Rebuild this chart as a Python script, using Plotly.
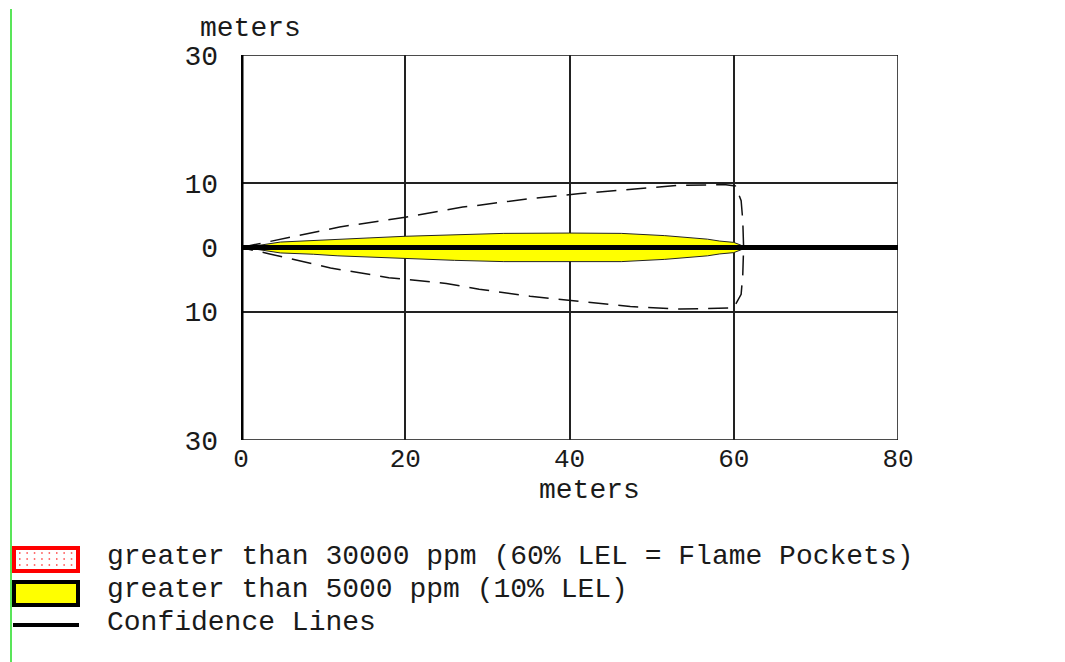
import plotly.graph_objects as go

# ---- data (meters) ----
plume_x = [0, 2, 4.8, 8.8, 11.8, 15.7, 20, 26, 32, 40, 46.3, 51.6, 54.2, 56.8, 58.3, 60, 61]
plume_hw = [0, 0.3, 0.85, 1.05, 1.3, 1.5, 1.75, 2.0, 2.2, 2.25, 2.2, 1.85, 1.6, 1.3, 1.0, 0.8, 0.3]

conf_upper_x = [0, 3, 6, 12, 20, 27, 29, 35, 41.3, 47.4, 53.5, 58.8, 60.2]
conf_upper_y = [0, 0.8, 1.6, 3.2, 4.7, 6.3, 6.6, 7.6, 8.4, 9.1, 9.7, 9.8, 9.6]
conf_cap_x = [60.9, 61.1, 61.2, 61.1, 60.9]
conf_cap_y = [7.3, 4.2, 0, -4.2, -7.3]
conf_lower_x = [60, 53.5, 47.4, 41.3, 35.2, 29, 25, 18, 10.9, 3.5, 0]
conf_lower_y = [-9.4, -9.6, -9.2, -8.4, -7.6, -6.5, -5.6, -4.7, -3.2, -1.0, 0]

centerline_x = [0, 80]
centerline_y = [0, 0]

x_ticks = [0, 20, 40, 60, 80]
y_ticks = [30, 10, 0, -10, -30]
y_ticktext = ["30", "10", "0", "10", "30"]

legend_labels = [
    "greater than 30000 ppm (60% LEL = Flame Pockets)",
    "greater than 5000 ppm (10% LEL)",
    "Confidence Lines",
]

FONT = "Liberation Mono"
FS = 28
TXT = "#1a1a1a"

W, H = 1065, 662
L, R, T, B = 241, 898, 55, 440


def px(xp):
    return (xp - L) / (R - L)


def py(yp):
    return (B - yp) / (B - T)


fig = go.Figure()

# yellow plume (>5000 ppm)
poly_x = plume_x + plume_x[::-1]
poly_y = plume_hw + [-v for v in plume_hw[::-1]]
fig.add_trace(go.Scatter(x=poly_x, y=poly_y, fill="toself", fillcolor="#ffff00",
                         line=dict(color="#222222", width=1), mode="lines",
                         hoverinfo="skip", showlegend=False))

# confidence lines
cx = conf_upper_x + conf_cap_x + conf_lower_x
cy = conf_upper_y + conf_cap_y + conf_lower_y
fig.add_trace(go.Scatter(x=cx, y=cy, mode="lines",
                         line=dict(color="#111111", width=1.5, dash="20px,10px"),
                         hoverinfo="skip", showlegend=False))

# centerline
fig.add_trace(go.Scatter(x=centerline_x, y=centerline_y, mode="lines",
                         line=dict(color="#000000", width=5),
                         hoverinfo="skip", showlegend=False))

shapes = []
# plot border
shapes.append(dict(type="rect", xref="x", yref="y", x0=0, x1=80, y0=-30, y1=30,
                   line=dict(color="#111111", width=1.5), layer="below"))
# thick left axis
shapes.append(dict(type="line", xref="x", yref="y", x0=0, x1=0, y0=-30, y1=30,
                   line=dict(color="#000000", width=5), layer="above"))
# green page edge line
shapes.append(dict(type="line", xref="paper", yref="paper",
                   x0=px(11), x1=px(11), y0=py(9), y1=py(662),
                   line=dict(color="#22dd22", width=1.5)))

# legend swatches
shapes.append(dict(type="rect", xref="paper", yref="paper",
                   x0=px(14), x1=px(78), y0=py(571), y1=py(548),
                   line=dict(color="#ff0000", width=4), fillcolor="#ffffff"))
for r_ in [553, 559, 565]:
    for c_ in range(8):
        xx = 19 + c_ * 7.4
        shapes.append(dict(type="rect", xref="paper", yref="paper",
                           x0=px(xx), x1=px(xx + 1.5), y0=py(r_ + 0.75), y1=py(r_ - 0.75),
                           line=dict(width=0), fillcolor="#ff4040"))
shapes.append(dict(type="rect", xref="paper", yref="paper",
                   x0=px(14), x1=px(78), y0=py(605), y1=py(582),
                   line=dict(color="#000000", width=4), fillcolor="#ffff00"))
shapes.append(dict(type="line", xref="paper", yref="paper",
                   x0=px(13), x1=px(79), y0=py(625), y1=py(625),
                   line=dict(color="#000000", width=4)))

annotations = []
annotations.append(dict(text="meters", xref="paper", yref="paper", x=px(250), y=py(28),
                        xanchor="center", yanchor="middle", showarrow=False,
                        font=dict(family=FONT, size=FS, color=TXT)))
annotations.append(dict(text="meters", xref="paper", yref="paper", x=px(589), y=py(490),
                        xanchor="center", yanchor="middle", showarrow=False,
                        font=dict(family=FONT, size=FS, color=TXT)))
for lab, yc in zip(legend_labels, [556, 589, 622]):
    annotations.append(dict(text=lab, xref="paper", yref="paper", x=px(105), y=py(yc),
                            xanchor="left", yanchor="middle", showarrow=False,
                            font=dict(family=FONT, size=FS, color=TXT)))

fig.update_layout(
    width=W, height=H,
    margin=dict(l=L, r=W - R, t=T, b=H - B, pad=0),
    paper_bgcolor="white", plot_bgcolor="white",
    showlegend=False,
    shapes=shapes, annotations=annotations,
    xaxis=dict(range=[0, 80], tickvals=x_ticks, ticktext=[str(v) for v in x_ticks],
               showgrid=True, gridcolor="#222222", gridwidth=1.5,
               zeroline=False, showline=False, ticks="",
               tickfont=dict(family=FONT, size=26, color=TXT), ticklabelstandoff=0,
               fixedrange=True),
    yaxis=dict(range=[-30, 30], tickvals=y_ticks, ticktext=y_ticktext,
               showgrid=True, gridcolor="#222222", gridwidth=1.5,
               zeroline=False, showline=False, ticks="",
               tickfont=dict(family=FONT, size=FS, color=TXT), ticklabelstandoff=22,
               fixedrange=True),
)

fig.write_html("out.html")
